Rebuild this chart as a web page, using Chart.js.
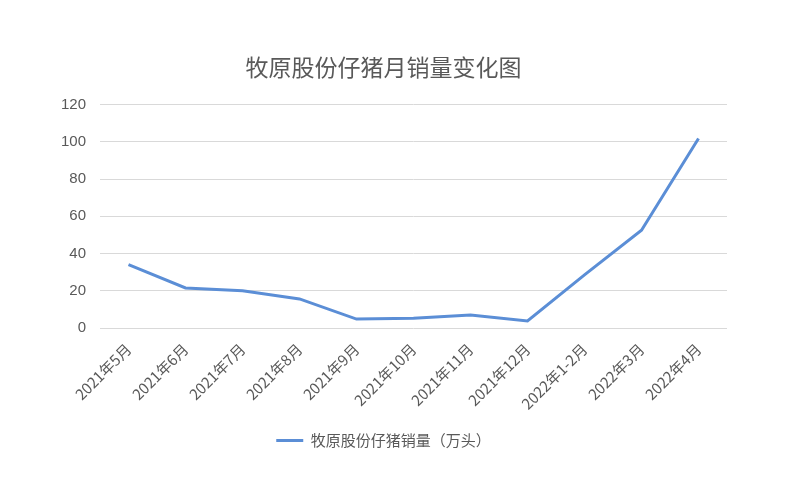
<!DOCTYPE html>
<html><head><meta charset="utf-8">
<script src="https://cdn.jsdelivr.net/npm/chart.js@4/dist/chart.umd.min.js"></script>
<style>html,body{margin:0;padding:0;background:#fff}#w{width:792px;height:501px}</style>
</head><body><div id="w"><canvas id="c" width="792" height="501"></canvas></div>
<script>
const categories = ["2021年5月","2021年6月","2021年7月","2021年8月","2021年9月","2021年10月","2021年11月","2021年12月","2022年1-2月","2022年3月","2022年4月"];
const seriesName = "牧原股份仔猪销量（万头）";
const sales = [34, 21.5, 20, 15.6, 4.8, 5.2, 7, 3.8, 28.5, 52.5, 101.8];
const yTicks = [0, 20, 40, 60, 80, 100, 120];
const titleText = "牧原股份仔猪月销量变化图";

const FONT = "'Noto Sans CJK SC','Liberation Sans',Arial,sans-serif";
const GREY = "#595959";
const LINE = '#5B8ED6';
new Chart(document.getElementById('c'), {
  type: 'line',
  data: { labels: categories, datasets: [{
    label: seriesName, data: sales, borderColor: LINE, backgroundColor: LINE,
    borderWidth: 3, pointRadius: 0, tension: 0, fill: false
  }]},
  options: {
    responsive: false, animation: false,
    layout: { padding: { left: 40, right: 65, top: 53, bottom: 43 } },
    plugins: {
      title: { display: true, text: titleText, color: GREY, font: { family: FONT, size: 23, weight: 'normal' }, padding: { top: 0, bottom: 24 } },
      legend: { position: 'bottom', labels: { color: GREY, font: { family: FONT, size: 15 }, boxWidth: 27, boxHeight: 3, padding: 10,
        generateLabels: (chart) => Chart.defaults.plugins.legend.labels.generateLabels(chart).map(l => Object.assign(l, { lineWidth: 0 })) } },
      tooltip: { enabled: false }
    },
    scales: {
      x: { offset: true, grid: { display: false }, border: { display: false },
        afterFit: (s) => { s.height = 95; },
        ticks: { color: GREY, font: { family: FONT, size: 15 }, maxRotation: 45, minRotation: 45, autoSkip: false, padding: 4 } },
      y: { min: 0, max: 120, border: { display: false },
        afterFit: (s) => { s.width = 60; },
        afterBuildTicks: (a) => { a.ticks = yTicks.map(v => ({ value: v })); },
        grid: { color: '#d9d9d9', lineWidth: 1, drawTicks: false },
        ticks: { color: GREY, font: { family: 'Liberation Sans, Arial, sans-serif', size: 15 }, padding: 14 } }
    }
  }
});
</script></body></html>
